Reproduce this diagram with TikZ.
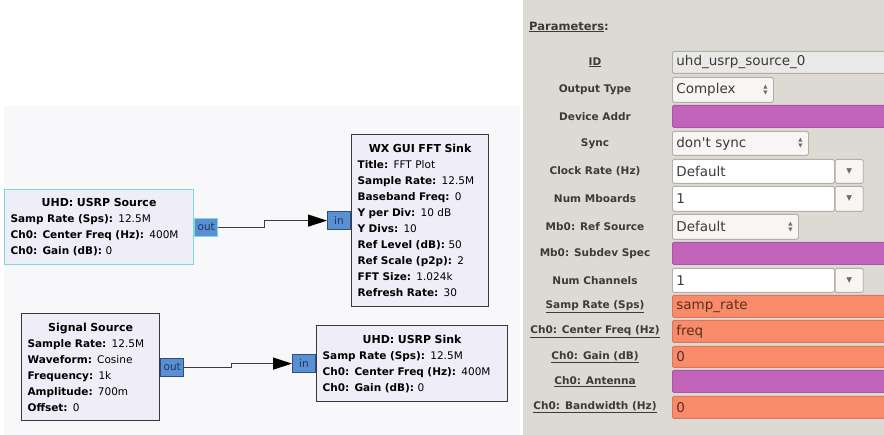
\documentclass[tikz,border=0pt]{standalone}
\usepackage{fontspec}
\setmainfont{DejaVu Sans}
\usepackage{tikz}
\usetikzlibrary{arrows.meta,positioning}
\definecolor{CanvasBg}{HTML}{F8F7FA}
\definecolor{BlockFill}{HTML}{EFEDF7}
\definecolor{BlockEdge}{HTML}{3A3A3A}
\definecolor{SelCyan}{HTML}{7AD9DC}
\definecolor{PortBlue}{HTML}{5A8FD2}
\definecolor{PortEdge}{HTML}{2A4F86}
\definecolor{PortText}{HTML}{1C3766}
\definecolor{WireGray}{HTML}{3C3C3C}
\definecolor{PanelBg}{HTML}{DDD9D3}
\definecolor{LabelText}{HTML}{3C3B37}
\definecolor{FieldEdge}{HTML}{B3AEA7}
\definecolor{IdGray}{HTML}{E9E9E7}
\definecolor{SpinFill}{HTML}{F7F6F4}
\definecolor{ArrowGray}{HTML}{6E6C68}
\definecolor{ParMagenta}{HTML}{C263BC}
\definecolor{MagEdge}{HTML}{A9559F}
\definecolor{ParOrange}{HTML}{F98B6A}
\definecolor{OrEdge}{HTML}{D9775A}
\definecolor{OrText}{HTML}{5A2E20}
\newcommand{\blktitle}[1]{\makebox[\linewidth]{\fontsize{11}{16}\selectfont\bfseries #1}}
\newcommand{\prm}[2]{\mbox{\textbf{#1:} #2}}
\tikzset{
  % Flowgraph block
  BLK/.style={rectangle,draw=BlockEdge,line width=1.2pt,fill=BlockFill,
              anchor=north west,align=left,inner xsep=6pt,inner ysep=0pt,
              font=\fontsize{10.5}{16}\selectfont,text=black},
  blk/.style={BLK},
  sel/.style={BLK,draw=SelCyan},
  % Port
  port/.style={rectangle,draw=PortEdge,line width=1pt,fill=PortBlue,text=PortText,
               minimum width=23pt,minimum height=18pt,inner sep=0pt,
               font=\fontsize{10.5}{11}\selectfont},
  % Connection
  wire/.style={-{Triangle[length=19pt,width=12pt,color=black]},line width=1.1pt,draw=WireGray},
  % Dialog label
  lbl/.style={font=\fontsize{10.5}{12}\selectfont\bfseries,text=LabelText,inner sep=0pt},
  % Dialog fields
  FLD/.style={rectangle,anchor=north west,draw=FieldEdge,line width=0.8pt,
              rounded corners=1.5pt,inner xsep=4pt,inner ysep=0pt,align=left,
              font=\fontsize{13.5}{14}\selectfont,text=LabelText},
  fW/.style={FLD,fill=white},
  fS/.style={FLD,fill=SpinFill},
  fG/.style={FLD,fill=IdGray},
  fM/.style={FLD,fill=ParMagenta,draw=MagEdge},
  fO/.style={FLD,fill=ParOrange,draw=OrEdge,text=OrText},
  spinar/.style={font=\fontsize{5.5}{6}\selectfont,text=ArrowGray,inner sep=0pt,align=center},
  ddbtn/.style={FLD,fill=SpinFill,minimum width=28pt,inner xsep=0pt,align=center,
                font=\fontsize{7.5}{8}\selectfont,text=ArrowGray}
}
\begin{document}
\begin{tikzpicture}[x=1pt,y=-1pt]
  \path[use as bounding box] (0,0) rectangle (884,435);
  \clip (0,0) rectangle (884,435);
  \fill[CanvasBg] (4,106) rectangle (520,435);
  \fill[PanelBg] (523,0) rectangle (884,435);

  % flowgraph
  \node[sel,text width=177pt,minimum height=75pt] (usrpsrc) at (4,189)
    {\blktitle{UHD: USRP Source}\\ \prm{Samp Rate (Sps)}{12.5M}\\
     \prm{Ch0: Center Freq (Hz)}{400M}\\ \prm{Ch0: Gain (dB)}{0}};
  \node[blk,text width=125pt,minimum height=172pt] (fftsink) at (351,134)
    {\blktitle{WX GUI FFT Sink}\\ \prm{Title}{FFT Plot}\\ \prm{Sample Rate}{12.5M}\\
     \prm{Baseband Freq}{0}\\ \prm{Y per Div}{10 dB}\\ \prm{Y Divs}{10}\\
     \prm{Ref Level (dB)}{50}\\ \prm{Ref Scale (p2p)}{2}\\ \prm{FFT Size}{1.024k}\\
     \prm{Refresh Rate}{30}};
  \node[blk,text width=126pt,minimum height=107pt] (sigsrc) at (21,313)
    {\blktitle{Signal Source}\\ \prm{Sample Rate}{12.5M}\\ \prm{Waveform}{Cosine}\\
     \prm{Frequency}{1k}\\ \prm{Amplitude}{700m}\\ \prm{Offset}{0}};
  \node[blk,text width=179pt,minimum height=76pt] (usrpsink) at (316,325)
    {\blktitle{UHD: USRP Sink}\\ \prm{Samp Rate (Sps)}{12.5M}\\
     \prm{Ch0: Center Freq (Hz)}{400M}\\ \prm{Ch0: Gain (dB)}{0}};

  \node[port,draw=SelCyan,right=0pt of usrpsrc] (srcout) {out};
  \node[port,left=0pt of fftsink]               (fftin)  {in};
  \node[port,right=0pt of sigsrc]               (sigout) {out};
  \node[port,left=0pt of usrpsink]              (sinkin) {in};

  \draw[wire] (srcout.east) -- ++(46,0) |- (fftin.west);
  \draw[wire] (sigout.east) -- ++(47,0) |- (sinkin.west);

  % parameter dialog
  \coordinate (lcol) at (595,0);
  \node[lbl,anchor=west,font=\fontsize{11.5}{12}\selectfont\bfseries] (phead) at (529,27)
    {\underline{Parameters}:};

  \node[fG,text width=208pt,minimum height=22pt] (fid)   at (672,51)  {uhd\_usrp\_source\_0};
  \node[fS,text width=93pt, minimum height=25pt] (otype) at (672,77)  {Complex};
  \node[fM,text width=208pt,minimum height=22pt] (fdev)  at (672,105) {};
  \node[fS,text width=128pt,minimum height=24pt] (fsync) at (672,131) {don\textquotesingle t sync};
  \node[fW,text width=154pt,minimum height=24pt] (fclk)  at (672,159) {Default};
  \node[fW,text width=154pt,minimum height=25pt] (fmb)   at (672,186) {1};
  \node[fS,text width=118pt,minimum height=25pt] (fref)  at (672,214) {Default};
  \node[fM,text width=208pt,minimum height=22pt] (fsub)  at (672,242) {};
  \node[fW,text width=154pt,minimum height=24pt] (fnch)  at (672,268) {1};
  \node[fO,text width=208pt,minimum height=22pt] (frate) at (672,295) {samp\_rate};
  \node[fO,text width=208pt,minimum height=22pt] (ffreq) at (672,320) {freq};
  \node[fO,text width=208pt,minimum height=21pt] (fgain) at (672,346) {0};
  \node[fM,text width=208pt,minimum height=22pt] (fant)  at (672,370) {};
  \node[fO,text width=208pt,minimum height=22pt] (fbw)   at (672,396) {0};

  \node[spinar,left=6pt of otype.east] (otypeA) {▲\\▼};
  \node[spinar,left=6pt of fsync.east] (fsyncA) {▲\\▼};
  \node[spinar,left=6pt of fref.east]  (frefA)  {▲\\▼};
  \node[ddbtn,minimum height=24pt,right=0pt of fclk] (fclkB) {▼};
  \node[ddbtn,minimum height=25pt,right=0pt of fmb]  (fmbB)  {▼};
  \node[ddbtn,minimum height=24pt,right=0pt of fnch] (fnchB) {▼};

  \node[lbl] (lid)   at (lcol |- fid)   {\underline{ID}};
  \node[lbl] (lotyp) at (lcol |- otype) {Output Type};
  \node[lbl] (ldev)  at (lcol |- fdev)  {Device Addr};
  \node[lbl] (lsync) at (lcol |- fsync) {Sync};
  \node[lbl] (lclk)  at (lcol |- fclk)  {Clock Rate (Hz)};
  \node[lbl] (lmb)   at (lcol |- fmb)   {Num Mboards};
  \node[lbl] (lref)  at (lcol |- fref)  {Mb0: Ref Source};
  \node[lbl] (lsub)  at (lcol |- fsub)  {Mb0: Subdev Spec};
  \node[lbl] (lnch)  at (lcol |- fnch)  {Num Channels};
  \node[lbl] (lrate) at (lcol |- frate) {\underline{Samp Rate (Sps)}};
  \node[lbl] (lfreq) at (lcol |- ffreq) {\underline{Ch0: Center Freq (Hz)}};
  \node[lbl] (lgain) at (lcol |- fgain) {\underline{Ch0: Gain (dB)}};
  \node[lbl] (lant)  at (lcol |- fant)  {\underline{Ch0: Antenna}};
  \node[lbl] (lbw)   at (lcol |- fbw)   {\underline{Ch0: Bandwidth (Hz)}};
\end{tikzpicture}
\end{document}
